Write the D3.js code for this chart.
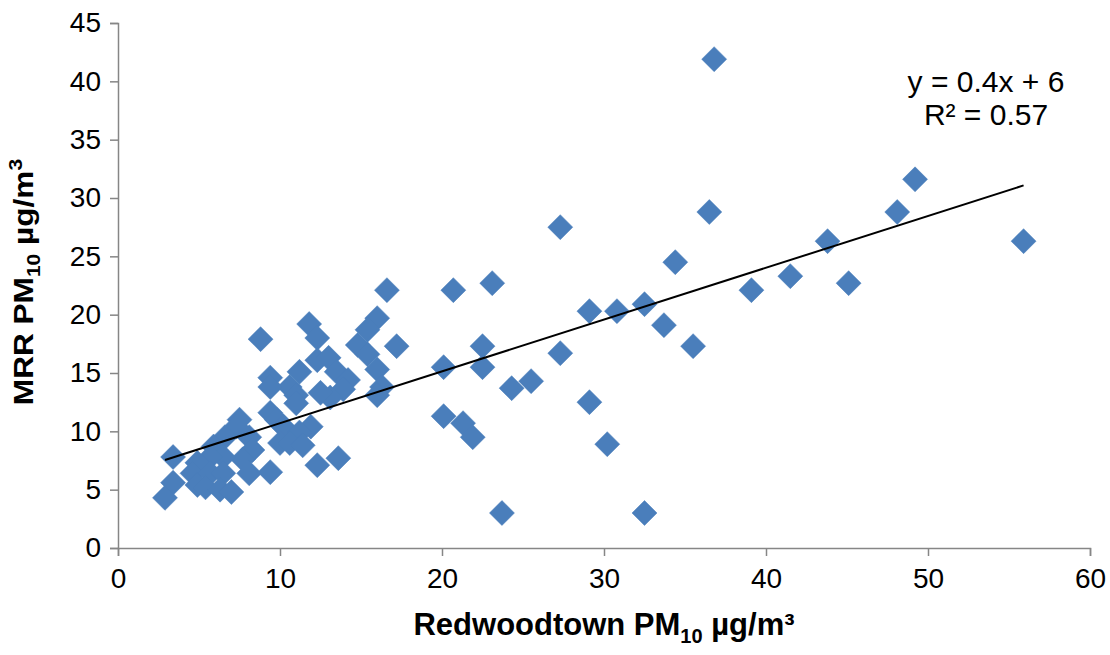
<!DOCTYPE html>
<html>
<head>
<meta charset="utf-8">
<script src="https://cdn.jsdelivr.net/npm/d3@7"></script>
<style>
  body { margin: 0; background: #fff; }
  svg { font-family: "Liberation Sans", Arial, sans-serif; }
</style>
</head>
<body>
<div id="chart"></div>
<script>
// Redwoodtown vs MRR PM10 readings
const redwoodtown = [
  55.9, 49.2, 48.1, 43.8, 45.1, 41.5, 39.1, 36.8, 36.5, 34.4,
  35.5, 33.7, 32.5, 30.8, 29.1, 27.3, 27.3, 29.1, 30.2, 32.5,
  23.7, 25.5, 24.3, 23.1, 22.5, 22.5, 20.7, 20.1, 20.1, 21.3,
  21.9, 16.6, 11.8, 8.8, 16.0, 15.4, 17.2, 12.3, 14.8, 15.4,
  16.0, 16.3, 16.0, 12.3, 13.0, 13.5, 14.2, 13.9, 13.1, 12.5,
  11.2, 10.6, 9.4, 9.4, 11.0, 11.0, 9.4, 9.8, 10.2, 11.9,
  11.2, 10.0, 10.6, 11.4, 7.5, 7.3, 8.1, 6.6, 5.9, 8.3,
  7.7, 6.5, 5.7, 4.9, 3.4, 4.6, 5.7, 6.5, 8.1, 9.4,
  12.3, 13.6, 3.4, 4.9, 5.4, 6.3, 7.0, 2.9
];
const mrr = [
  26.3, 31.6, 28.8, 26.3, 22.7, 23.3, 22.1, 41.9, 28.8, 24.5,
  17.3, 19.1, 20.9, 20.3, 20.3, 27.5, 16.7, 12.5, 8.9, 3.0,
  3.0, 14.3, 13.7, 22.7, 15.5, 17.3, 22.1, 15.5, 11.3, 10.7,
  9.5, 22.1, 19.2, 17.9, 19.7, 18.7, 17.3, 18.0, 17.4, 16.6,
  15.3, 13.8, 13.1, 16.1, 16.3, 15.1, 14.4, 13.6, 12.9, 13.3,
  15.1, 13.8, 14.6, 13.8, 13.1, 12.4, 11.6, 11.0, 10.4, 10.4,
  9.9, 9.0, 9.0, 8.8, 11.0, 10.4, 9.5, 9.5, 8.7, 8.4,
  7.6, 7.8, 7.8, 7.3, 7.8, 6.4, 6.4, 6.4, 6.4, 6.5,
  7.1, 7.7, 5.6, 5.4, 5.2, 5.0, 4.8, 4.3
];
const xTicks = [0, 10, 20, 30, 40, 50, 60];
const yTicks = [0, 5, 10, 15, 20, 25, 30, 35, 40, 45];
const trendSlope = 0.444;
const trendIntercept = 6.26;
const equationLines = ['y = 0.4x + 6', 'R\u00B2 = 0.57'];

const W = 1110, H = 655;
const margin = { left: 118, right: 20, top: 23, bottom: 107 };

const svg = d3.select('#chart').append('svg')
  .attr('width', W)
  .attr('height', H);

const x = d3.scaleLinear().domain([0, 60]).range([margin.left, W - margin.right]);
const y = d3.scaleLinear().domain([0, 45]).range([H - margin.bottom, margin.top]);

const axisColor = '#868686';

// x axis
const gx = svg.append('g')
  .attr('transform', `translate(0,${y(0)})`)
  .call(d3.axisBottom(x).tickValues(xTicks).tickSize(8).tickPadding(11));
// y axis
const gy = svg.append('g')
  .attr('transform', `translate(${x(0)},0)`)
  .call(d3.axisLeft(y).tickValues(yTicks).tickSize(8).tickPadding(9));

[gx, gy].forEach(g => {
  g.select('.domain').attr('stroke', axisColor).attr('stroke-width', 1.5);
  g.selectAll('.tick line').attr('stroke', axisColor).attr('stroke-width', 1.5);
  g.selectAll('.tick text').attr('fill', '#000').attr('font-size', 28)
    .attr('font-family', '"Liberation Sans", Arial, sans-serif');
});
gx.selectAll('.tick text').attr('dy', '0.75em');

// points
const pts = redwoodtown.map((v, i) => ({ x: v, y: mrr[i] }));
const r = 12.5;
svg.append('g').selectAll('path')
  .data(pts)
  .enter()
  .append('path')
  .attr('d', d => {
    const cx = x(d.x), cy = y(d.y);
    return `M${cx},${cy - r}L${cx + r},${cy}L${cx},${cy + r}L${cx - r},${cy}Z`;
  })
  .attr('fill', '#4A7EBB')
  .attr('stroke', '#4A7EBB')
  .attr('stroke-width', 0.5);

// trendline
const xMin = d3.min(redwoodtown), xMax = d3.max(redwoodtown);
svg.append('line')
  .attr('x1', x(xMin)).attr('y1', y(trendSlope * xMin + trendIntercept))
  .attr('x2', x(xMax)).attr('y2', y(trendSlope * xMax + trendIntercept))
  .attr('stroke', '#000')
  .attr('stroke-width', 2);

// equation
svg.append('g').selectAll('text')
  .data(equationLines)
  .enter()
  .append('text')
  .attr('x', 986)
  .attr('y', (d, i) => 92 + i * 33)
  .attr('text-anchor', 'middle')
  .attr('font-size', 30)
  .text(d => d);

// axis titles
const xt = svg.append('text')
  .attr('x', (x(0) + x(60)) / 2)
  .attr('y', 635)
  .attr('text-anchor', 'middle')
  .attr('font-size', 31)
  .attr('font-weight', 'bold');
xt.append('tspan').text('Redwoodtown PM');
xt.append('tspan').attr('font-size', 20).attr('dy', 8).text('10');
xt.append('tspan').attr('dy', -8).text(' \u00B5g/m\u00B3');

const yt = svg.append('text')
  .attr('transform', `translate(33,282) rotate(-90) scale(1.17,1)`)
  .attr('text-anchor', 'middle')
  .attr('font-size', 27)
  .attr('font-weight', 'bold');
yt.append('tspan').text('MRR PM');
yt.append('tspan').attr('font-size', 18).attr('dy', 7).text('10');
yt.append('tspan').attr('dy', -7).text(' \u00B5g/m');
yt.append('tspan').attr('font-size', 18).attr('dy', -11).text('3');
</script>
</body>
</html>
